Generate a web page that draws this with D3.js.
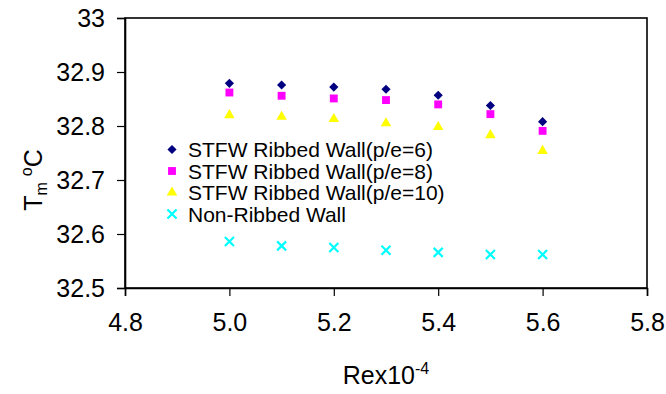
<!DOCTYPE html>
<html>
<head>
<meta charset="utf-8">
<script src="https://cdn.jsdelivr.net/npm/d3@7"></script>
<style>
  html, body { margin: 0; padding: 0; background: #fff; }
  svg { display: block; font-family: "Liberation Sans", Arial, sans-serif; }
</style>
</head>
<body>
<svg id="chart" width="666" height="394"></svg>
<script>
// Reynolds number (x 10^-4)
const reynolds = [5.0, 5.1, 5.2, 5.3, 5.4, 5.5, 5.6];

// Mean temperature Tm (°C) per wall configuration
const ribbedPE6  = [32.879, 32.876, 32.872, 32.868, 32.857, 32.838, 32.808];
const ribbedPE8  = [32.862, 32.856, 32.851, 32.848, 32.840, 32.822, 32.791];
const ribbedPE10 = [32.820, 32.817, 32.813, 32.805, 32.798, 32.783, 32.754];
const nonRibbed  = [32.586, 32.578, 32.575, 32.570, 32.566, 32.562, 32.562];

const seriesNames = [
  "STFW Ribbed Wall(p/e=6)",
  "STFW Ribbed Wall(p/e=8)",
  "STFW Ribbed Wall(p/e=10)",
  "Non-Ribbed Wall"
];

const xTicks = [4.8, 5.0, 5.2, 5.4, 5.6, 5.8];
const yTicks = [32.5, 32.6, 32.7, 32.8, 32.9, 33];

const svg = d3.select("#chart");
const margin = { left: 125, right: 19, top: 18, bottom: 106 };
const W = 666, H = 394;

const x = d3.scaleLinear().domain([4.8, 5.8]).range([margin.left, W - margin.right]);
const y = d3.scaleLinear().domain([32.5, 33]).range([H - margin.bottom, margin.top]);

// Plot frame
svg.append("rect")
  .attr("x", x(4.8)).attr("y", y(33))
  .attr("width", x(5.8) - x(4.8)).attr("height", y(32.5) - y(33))
  .attr("fill", "none").attr("stroke", "#000").attr("stroke-width", 1.6);

// Axes
const xAxis = svg.append("g")
  .attr("transform", `translate(0,${y(32.5)})`)
  .call(d3.axisBottom(x).tickValues(xTicks).tickFormat(d3.format(".1f")).tickSize(8).tickPadding(17));
const yAxis = svg.append("g")
  .attr("transform", `translate(${x(4.8)},0)`)
  .call(d3.axisLeft(y).tickValues(yTicks).tickFormat(d => d3.format("")(+d.toFixed(1))).tickSize(8).tickPadding(12));

[xAxis, yAxis].forEach(g => {
  g.select(".domain").attr("stroke", "#000").attr("stroke-width", 1.6);
  g.selectAll(".tick line").attr("stroke", "#000").attr("stroke-width", 1.2);
  g.selectAll(".tick text")
    .attr("fill", "#000")
    .style("font-family", "'Liberation Sans', Arial, sans-serif")
    .style("font-size", "25px");
});

// Axis titles
svg.append("text")
  .attr("x", (x(4.8) + x(5.8)) / 2)
  .attr("y", 384)
  .attr("text-anchor", "middle")
  .style("font-size", "25px")
  .html('Rex10<tspan dy="-10" font-size="16px">-4</tspan>');

svg.append("text")
  .attr("transform", "translate(42,180) rotate(-90)")
  .attr("text-anchor", "middle")
  .style("font-size", "25px")
  .html('T<tspan dy="5" font-size="16px">m</tspan><tspan dy="-15" font-size="16px" dx="6">o</tspan><tspan dy="10">C</tspan>');

// Marker shapes
const shapes = [
  { color: "#000080", path: d3.symbol(d3.symbolSquare, 42)(), rotate: 45, stroke: false },
  { color: "#FF00FF", path: d3.symbol(d3.symbolSquare, 62)(), rotate: 0, stroke: false },
  { color: "#FFFF00", path: d3.symbol(d3.symbolTriangle, 48)(), rotate: 0, stroke: false },
  { color: "#00FFFF", path: "M-4.5,-4.5L4.5,4.5M-4.5,4.5L4.5,-4.5", rotate: 0, stroke: true }
];

function drawMarker(g, s, cx, cy) {
  const p = g.append("path")
    .attr("d", s.path)
    .attr("transform", `translate(${cx},${cy}) rotate(${s.rotate})`);
  if (s.stroke) {
    p.attr("fill", "none").attr("stroke", s.color).attr("stroke-width", 2.2);
  } else {
    p.attr("fill", s.color);
  }
}

const allSeries = [ribbedPE6, ribbedPE8, ribbedPE10, nonRibbed];
const marks = svg.append("g");
allSeries.forEach((vals, i) => {
  vals.forEach((v, j) => drawMarker(marks, shapes[i], x(reynolds[j]), y(v)));
});

// Legend
const legend = svg.append("g");
seriesNames.forEach((name, i) => {
  const cy = 149.5 + i * 21.5;
  drawMarker(legend, shapes[i], 172, cy);
  legend.append("text")
    .attr("x", 188).attr("y", cy + 7.5)
    .style("font-size", "21px")
    .attr("fill", "#000")
    .text(name);
});
</script>
</body>
</html>
